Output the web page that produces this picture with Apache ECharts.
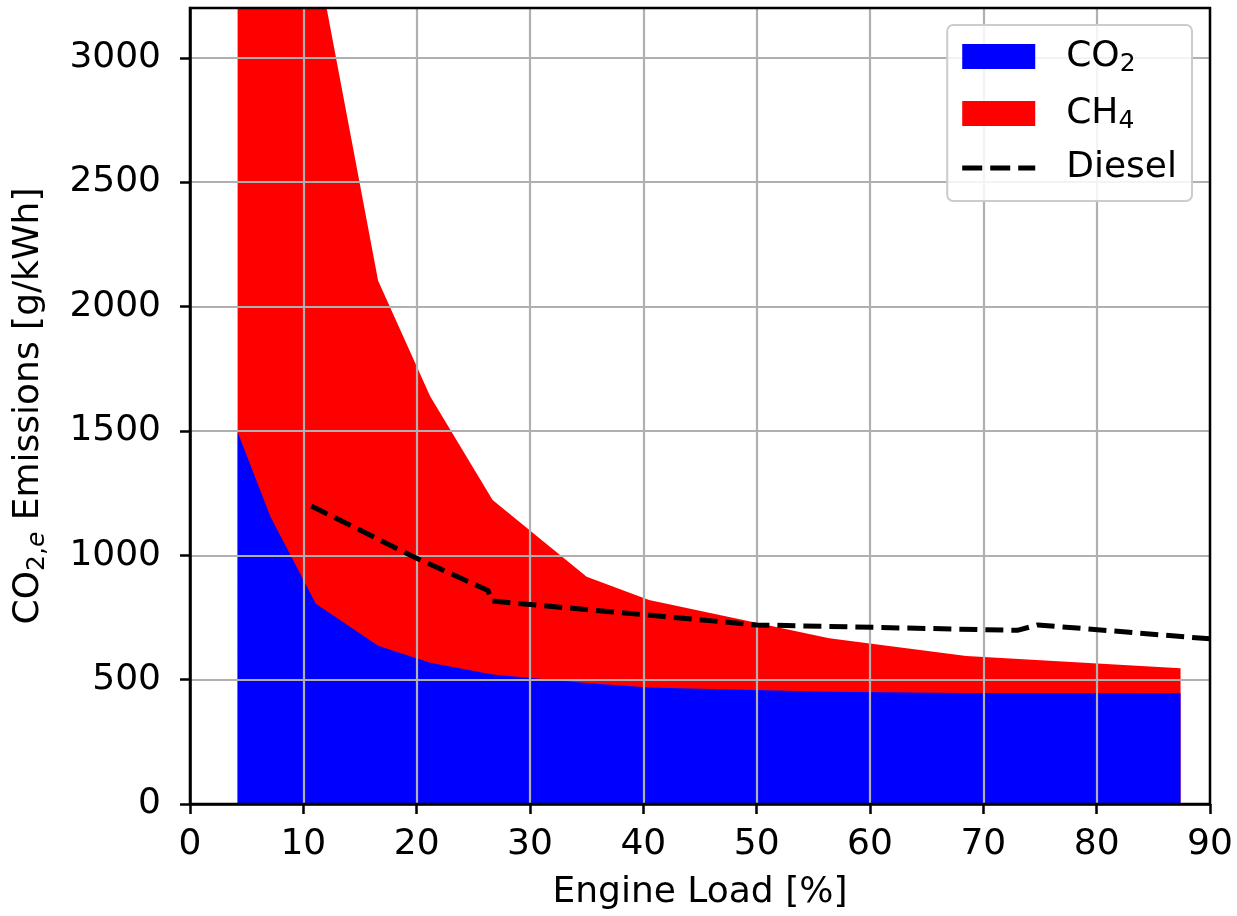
<!DOCTYPE html>
<html>
<head>
<meta charset="utf-8">
<script src="https://cdn.jsdelivr.net/npm/echarts@6/dist/echarts.min.js"></script>
<style>
html,body{margin:0;padding:0;background:#fff;}
#chart{width:1237px;height:916px;}
</style>
</head>
<body>
<div id="chart"></div>
<script>
// ---- data ----
const loads = [4.2, 7.1, 11.1, 16.6, 21.2, 26.7, 35.0, 40.5, 56.4, 68.5, 87.4];
const co2   = [1495, 1155, 805, 636, 568, 521, 486, 468, 451, 446, 445];
const ch4   = [7505, 4345, 2625, 1468, 1070, 701, 428, 352, 215, 149, 101];
const dieselLoads = [10.7, 19.9, 26.3, 26.6, 50, 73, 74.8, 90];
const dieselVals  = [1198, 990, 858, 816, 720, 698, 720, 664];
const xTicks = [0, 10, 20, 30, 40, 50, 60, 70, 80, 90];
const yTicks = [0, 500, 1000, 1500, 2000, 2500, 3000];

const FONT = 'DejaVu Sans';
const FS = 36;

const pairs = (xs, ys) => xs.map((x, i) => [x, ys[i]]);
// CH4 is stacked on top of CO2: its upper edge is CO2 + CH4
const ch4Top = co2.map((v, i) => v + ch4[i]);

const chart = echarts.init(document.getElementById('chart'), null, {renderer: 'canvas'});

const axisCommon = {
  type: 'value',
  z: 3,
  axisLine: {show: true, onZero: false, lineStyle: {color: '#000', width: 2.5}},
  axisTick: {show: true, inside: false, length: 10, lineStyle: {color: '#000', width: 2.5}},
  splitLine: {show: true, lineStyle: {color: '#b0b0b0', width: 2.2}},
  nameLocation: 'middle'
};

const subRich = {
  n: {fontSize: FS, fontFamily: FONT, color: '#000', lineHeight: 42},
  s: {fontSize: 25, fontFamily: FONT, color: '#000', lineHeight: 20, padding: [16, 0, 0, 0]},
  si: {fontSize: 25, fontFamily: FONT, fontStyle: 'italic', color: '#000', lineHeight: 20, padding: [16, 0, 0, 0]}
};

const option = {
  backgroundColor: '#ffffff',
  animation: false,
  grid: {
    left: 190, top: 8, width: 1020, height: 796,
    show: true, borderColor: '#000', borderWidth: 2.5,
    backgroundColor: 'transparent', z: 4
  },
  legend: {
    orient: 'vertical',
    right: 45, top: 25,
    itemWidth: 73, itemHeight: 25, itemGap: 16,
    backgroundColor: 'rgba(255,255,255,0.85)',
    borderColor: '#cccccc', borderWidth: 2, borderRadius: 6,
    padding: [11, 15, 15, 15],
    z: 6,
    data: [
      {name: 'CO2', icon: 'rect'},
      {name: 'CH4', icon: 'rect'},
      {name: 'Diesel', icon: 'path://M0,0M73,25M0,10h20v5h-20zM28,10h20v5h-20zM56,10h17v5h-17z', itemStyle: {color: '#000'}}
    ],
    formatter: function (name) {
      if (name === 'CO2') return '{n|CO}{s|2}';
      if (name === 'CH4') return '{n|CH}{s|4}';
      return '{n|' + name + '}';
    },
    textStyle: {
      padding: [0, 0, 0, 26],
      rich: subRich
    }
  },
  xAxis: Object.assign({}, axisCommon, {
    min: 0, max: 90, interval: 10,
    axisLabel: {fontSize: FS, fontFamily: FONT, color: '#000', margin: 23,
      customValues: xTicks, formatter: v => String(v)},
    axisTick: Object.assign({}, axisCommon.axisTick, {customValues: xTicks}),
    name: 'Engine Load [%]',
    nameGap: 71,
    nameTextStyle: {fontSize: FS, fontFamily: FONT, color: '#000'}
  }),
  yAxis: Object.assign({}, axisCommon, {
    min: 0, max: 3200, interval: 500,
    axisLabel: {fontSize: FS, fontFamily: FONT, color: '#000', margin: 29,
      customValues: yTicks, formatter: v => String(v)},
    axisTick: Object.assign({}, axisCommon.axisTick, {customValues: yTicks}),
    name: '{n|CO}{s|2,}{si|e}{n| Emissions [g/kWh]}',
    nameGap: 140,
    nameTextStyle: {rich: subRich}
  }),
  series: [
    {
      name: 'CH4', type: 'line', z: 1,
      data: pairs(loads, ch4Top),
      symbol: 'none', color: '#ff0000',
      lineStyle: {width: 0},
      areaStyle: {color: '#ff0000', opacity: 1},
      clip: true
    },
    {
      name: 'CO2', type: 'line', z: 2,
      data: pairs(loads, co2),
      symbol: 'none', color: '#0000ff',
      lineStyle: {width: 0},
      areaStyle: {color: '#0000ff', opacity: 1},
      clip: true
    },
    {
      name: 'Diesel', type: 'line', z: 5,
      data: pairs(dieselLoads, dieselVals),
      symbol: 'none', color: '#000',
      lineStyle: {color: '#000', width: 5, type: [18, 8]},
      clip: true
    }
  ]
};

chart.setOption(option);
</script>
</body>
</html>
